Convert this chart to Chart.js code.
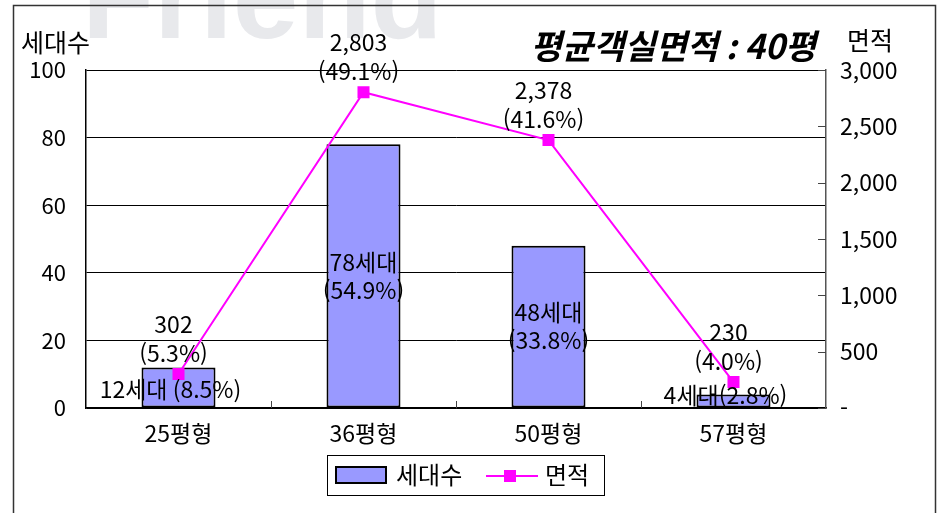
<!DOCTYPE html>
<html lang="ko">
<head>
<meta charset="UTF-8">
<title>세대수 / 면적</title>
<style>
  body { margin: 0; background: #fff; }
  #wrap { width: 941px; height: 513px; }
</style>
<script src="https://cdn.jsdelivr.net/npm/chart.js"></script>
</head>
<body>
<div id="wrap"><canvas id="chart" width="941" height="513"></canvas></div>
<script>
  // data
  const categories = ['25평형', '36평형', '50평형', '57평형'];
  const households = [12, 78, 48, 4];
  const householdShare = ['8.5%', '54.9%', '33.8%', '2.8%'];
  const areas = [302, 2803, 2378, 230];
  const areaShare = ['5.3%', '49.1%', '41.6%', '4.0%'];
  const leftTicks = [0, 20, 40, 60, 80, 100];
  const rightTicks = [0, 500, 1000, 1500, 2000, 2500, 3000];

  const FONT = '"Noto Sans CJK KR", "Noto Sans", sans-serif';
  const BAR_FILL = '#9999FF';
  const LINE_COLOR = '#FF00FF';

  const fmt = v => v === 0 ? '-' : v.toLocaleString('en-US');

  // watermark, frame, axis titles, labels, legend
  const decor = {
    id: 'decor',
    beforeDraw(chart) {
      const ctx = chart.ctx;
      ctx.save();
      ctx.fillStyle = '#fff';
      ctx.fillRect(0, 0, chart.width, chart.height);
      ctx.fillStyle = '#e8e9ec';
      ctx.font = 'bold 118px "Liberation Sans", Arial, sans-serif';
      ctx.textBaseline = 'alphabetic';
      ctx.textAlign = 'left';
      ctx.fillText('Friend', 82, 38);
      ctx.restore();
    },
    afterDatasetsDraw(chart) {
      const ctx = chart.ctx;
      ctx.save();
      ctx.fillStyle = '#000';
      ctx.font = '23px ' + FONT;
      ctx.textAlign = 'center';
      ctx.textBaseline = 'middle';

      // bar labels
      chart.getDatasetMeta(0).data.forEach((el, i) => {
        const h = el.base - el.y;
        const mid = (el.y + el.base) / 2;
        const a = households[i] + '세대';
        const b = '(' + householdShare[i] + ')';
        if (h < 60) {
          ctx.fillText(a + (i === 0 ? ' ' : '') + b, el.x - 8, Math.min(mid + 2, el.base - 12));
        } else {
          ctx.fillText(a, el.x, mid - 14);
          ctx.fillText(b, el.x, mid + 14);
        }
      });

      // line labels
      chart.getDatasetMeta(1).data.forEach((el, i) => {
        ctx.fillText(fmt(areas[i]), el.x - 5, el.y - 50);
        ctx.fillText('(' + areaShare[i] + ')', el.x - 5, el.y - 21);
      });
      ctx.restore();
    },
    afterDraw(chart) {
      const ctx = chart.ctx;
      const area = chart.chartArea;
      const x = chart.scales.x;
      const y1 = chart.scales.y1;
      ctx.save();

      // outer frame
      ctx.strokeStyle = '#333';
      ctx.lineWidth = 1.5;
      ctx.strokeRect(13.5, 5.5, 922, 560);

      // inner tick marks
      ctx.strokeStyle = '#444';
      ctx.lineWidth = 1;
      ctx.beginPath();
      for (let i = 1; i < categories.length; i++) {
        const px = Math.round((x.getPixelForValue(i - 1) + x.getPixelForValue(i)) / 2) + 0.5;
        ctx.moveTo(px, area.bottom);
        ctx.lineTo(px, area.bottom - 7);
      }
      rightTicks.forEach(v => {
        const py = Math.round(y1.getPixelForValue(v)) + 0.5;
        ctx.moveTo(area.right, py);
        ctx.lineTo(area.right - 8, py);
      });
      ctx.stroke();

      // axis titles and heading
      ctx.fillStyle = '#000';
      ctx.textBaseline = 'middle';
      ctx.font = '25px ' + FONT;
      ctx.textAlign = 'left';
      ctx.fillText('세대수', 21, 42);
      ctx.fillText('면적', 847, 40);
      ctx.font = 'italic bold 34px ' + FONT;
      ctx.textAlign = 'right';
      ctx.fillText('평균객실면적 : 40평', 816, 46);

      // legend
      const lx = 327, ly = 455, lw = 277, lh = 40;
      ctx.strokeStyle = '#000';
      ctx.lineWidth = 1;
      ctx.strokeRect(lx + 0.5, ly + 0.5, lw, lh);
      ctx.fillStyle = BAR_FILL;
      ctx.fillRect(336, 467, 50, 16);
      ctx.lineWidth = 2;
      ctx.strokeRect(336, 467, 50, 16);
      ctx.strokeStyle = LINE_COLOR;
      ctx.beginPath();
      ctx.moveTo(486, 476);
      ctx.lineTo(538, 476);
      ctx.stroke();
      ctx.fillStyle = LINE_COLOR;
      ctx.fillRect(504, 470, 12, 12);
      ctx.fillStyle = '#000';
      ctx.font = '24px ' + FONT;
      ctx.textAlign = 'left';
      ctx.fillText(chart.data.datasets[0].label, 396, 475);
      ctx.fillText(chart.data.datasets[1].label, 545, 475);
      ctx.restore();
    }
  };

  new Chart(document.getElementById('chart'), {
    type: 'bar',
    data: {
      labels: categories,
      datasets: [
        {
          type: 'bar',
          label: '세대수',
          data: households,
          backgroundColor: BAR_FILL,
          borderColor: '#000',
          borderWidth: 2,
          borderSkipped: false,
          categoryPercentage: 1,
          barPercentage: 0.4,
          yAxisID: 'y',
          order: 2
        },
        {
          type: 'line',
          label: '면적',
          data: areas,
          borderColor: LINE_COLOR,
          borderWidth: 2,
          pointStyle: 'rect',
          pointRadius: 8.5,
          pointBackgroundColor: LINE_COLOR,
          pointBorderWidth: 0,
          tension: 0,
          yAxisID: 'y1',
          order: 1
        }
      ]
    },
    options: {
      responsive: false,
      animation: false,
      layout: { padding: { top: 70, left: 0, right: 0, bottom: 0 } },
      plugins: {
        legend: { display: false },
        tooltip: { enabled: false }
      },
      scales: {
        x: {
          grid: { display: false, drawTicks: false },
          border: { color: '#000', width: 1.5 },
          ticks: { color: '#000', font: { family: FONT, size: 23 }, padding: 11 },
          afterFit: s => { s.height = 105; }
        },
        y: {
          position: 'left',
          min: leftTicks[0],
          max: leftTicks[leftTicks.length - 1],
          afterBuildTicks: s => { s.ticks = leftTicks.map(v => ({ value: v })); },
          grid: { color: '#000', lineWidth: 1, drawTicks: false },
          border: { color: '#000', width: 1.5 },
          ticks: { color: '#000', font: { family: FONT, size: 22 }, padding: 20 },
          afterFit: s => { s.width = 86; }
        },
        y1: {
          position: 'right',
          min: rightTicks[0],
          max: rightTicks[rightTicks.length - 1],
          afterBuildTicks: s => { s.ticks = rightTicks.map(v => ({ value: v })); },
          grid: { display: false, drawTicks: false },
          border: { color: '#555', width: 1.5 },
          ticks: { color: '#000', font: { family: FONT, size: 23 }, padding: 14, callback: v => fmt(v) },
          afterFit: s => { s.width = 115; }
        }
      }
    },
    plugins: [decor]
  });
</script>
</body>
</html>
